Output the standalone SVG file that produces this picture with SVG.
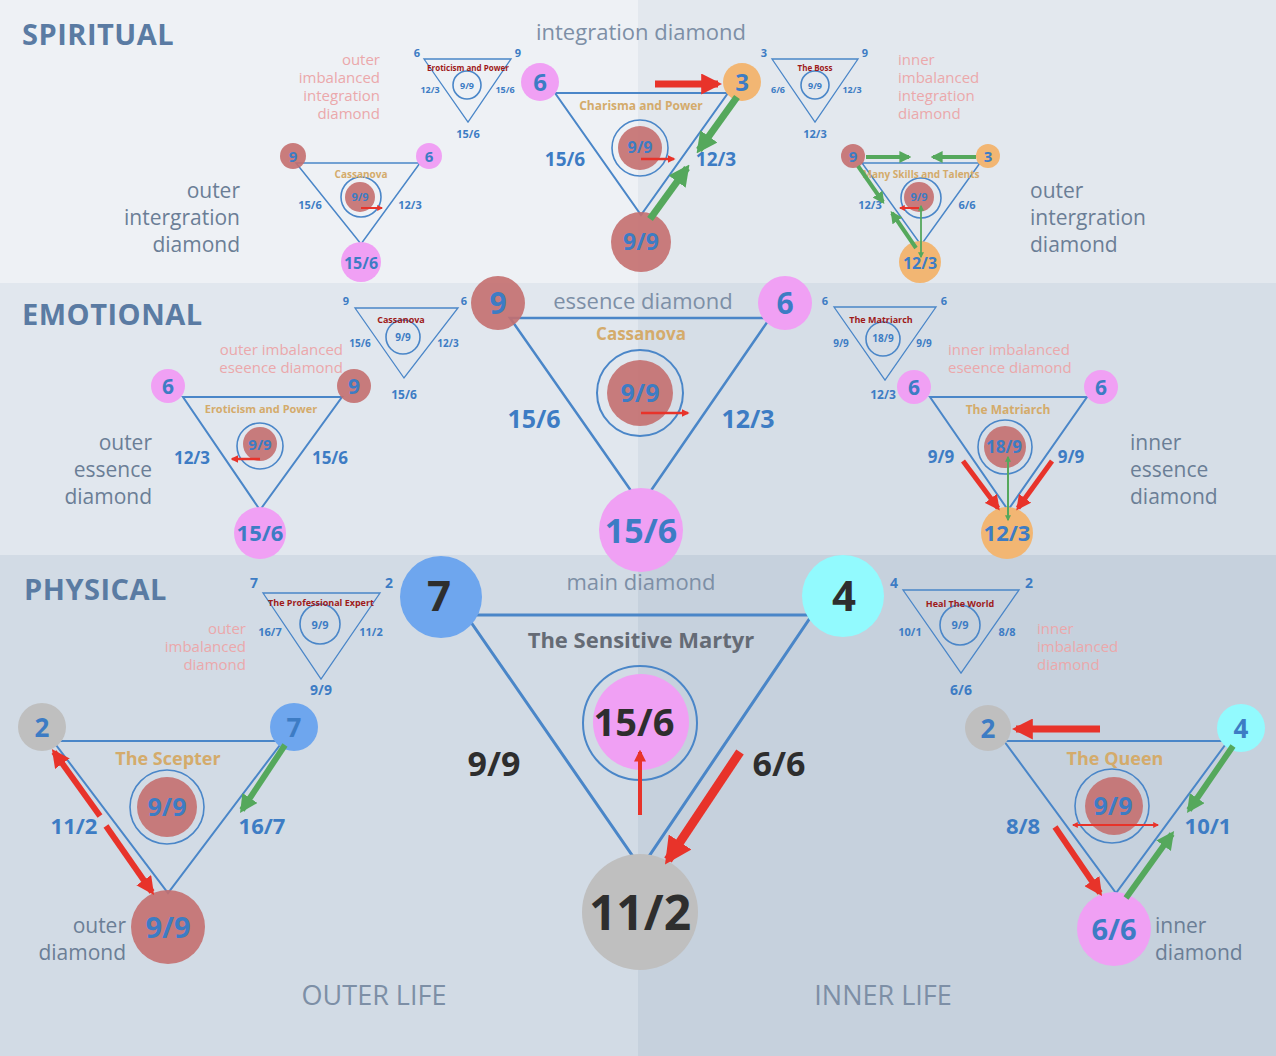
<svg xmlns="http://www.w3.org/2000/svg" width="1276" height="1056" viewBox="0 0 1276 1056">
<style>
text{font-family:"Open Sans","Noto Sans","DejaVu Sans",sans-serif;font-weight:bold;text-anchor:middle;fill:#3d7cc4}
.tri{fill:none;stroke:#4a86c8;stroke-width:2}
.tri3{fill:none;stroke:#4a86c8;stroke-width:3}
.ring{fill:none;stroke:#4a86c8;stroke-width:1.6}
.br{fill:#c46f6f;fill-opacity:.9}
.pk{fill:#f0a0f4}
.or{fill:#f2b673}
.gy{fill:#bfbfbf}
.bl{fill:#6ea6ee}
.cy{fill:#92fafe}
.sec{font-size:29px;fill:#5a7ba3;text-anchor:start;letter-spacing:0.5px}
.cap{font-weight:normal;font-size:22px;fill:#7d8fa6}
.pale{font-weight:normal;font-size:15px;fill:#eba8ab}
.side{font-weight:normal;font-size:21px;fill:#6b7e96}
.ttl{fill:#d4ab6b}
.dk{fill:#9e1a1a;font-size:9px}
.blk{fill:#2e2e2e}
.r{stroke:#e8332a;fill:none}
.g{stroke:#55a85c;fill:none}
</style>
<defs>
<marker id="ra" viewBox="0 0 10 10" refX="8" refY="5" markerWidth="3" markerHeight="3" orient="auto" markerUnits="strokeWidth"><path d="M0,0L10,5L0,10z" fill="#e8332a"/></marker>
<marker id="ga" viewBox="0 0 10 10" refX="8" refY="5" markerWidth="3" markerHeight="3" orient="auto" markerUnits="strokeWidth"><path d="M0,0L10,5L0,10z" fill="#55a85c"/></marker>
<marker id="ras" viewBox="0 0 10 10" refX="8" refY="5" markerWidth="6" markerHeight="6" orient="auto-start-reverse" markerUnits="userSpaceOnUse"><path d="M0,0L10,5L0,10z" fill="#e8332a"/></marker>
<marker id="gas" viewBox="0 0 10 10" refX="8" refY="5" markerWidth="6" markerHeight="6" orient="auto-start-reverse" markerUnits="userSpaceOnUse"><path d="M0,0L10,5L0,10z" fill="#55a85c"/></marker>
</defs>
<g id="background">
<rect x="0" y="0" width="638" height="283" fill="#eef1f5"/>
<rect x="638" y="0" width="638" height="283" fill="#e3e8ee"/>
<rect x="0" y="283" width="638" height="272" fill="#e1e7ee"/>
<rect x="638" y="283" width="638" height="272" fill="#d6dee7"/>
<rect x="0" y="555" width="638" height="501" fill="#d2dbe5"/>
<rect x="638" y="555" width="638" height="501" fill="#c6d1dd"/>
</g>
<g id="labels">
<text x="22" y="45" class="sec">SPIRITUAL</text>
<text x="22" y="325" class="sec">EMOTIONAL</text>
<text x="24" y="600" class="sec">PHYSICAL</text>
<text x="641" y="40" class="cap">integration diamond</text>
<text x="643" y="309" class="cap">essence diamond</text>
<text x="641" y="590" class="cap">main diamond</text>
<text x="374" y="1005" class="cap" style="font-size:27px">OUTER LIFE</text>
<text x="883" y="1005" class="cap" style="font-size:27px">INNER LIFE</text>
<text class="pale" style="text-anchor:end"><tspan x="380" y="65">outer</tspan><tspan x="380" y="83">imbalanced</tspan><tspan x="380" y="101">integration</tspan><tspan x="380" y="119">diamond</tspan></text>
<text class="pale" style="text-anchor:start"><tspan x="898" y="65">inner</tspan><tspan x="898" y="83">imbalanced</tspan><tspan x="898" y="101">integration</tspan><tspan x="898" y="119">diamond</tspan></text>
<text class="side" style="text-anchor:end"><tspan x="240" y="198">outer</tspan><tspan x="240" y="225">intergration</tspan><tspan x="240" y="252">diamond</tspan></text>
<text class="side" style="text-anchor:start"><tspan x="1030" y="198">outer</tspan><tspan x="1030" y="225">intergration</tspan><tspan x="1030" y="252">diamond</tspan></text>
<text class="pale" style="text-anchor:end"><tspan x="343" y="355">outer imbalanced</tspan><tspan x="343" y="373">eseence diamond</tspan></text>
<text class="pale" style="text-anchor:start"><tspan x="948" y="355">inner imbalanced</tspan><tspan x="948" y="373">eseence diamond</tspan></text>
<text class="side" style="text-anchor:end"><tspan x="152" y="450">outer</tspan><tspan x="152" y="477">essence</tspan><tspan x="152" y="504">diamond</tspan></text>
<text class="side" style="text-anchor:start"><tspan x="1130" y="450">inner</tspan><tspan x="1130" y="477">essence</tspan><tspan x="1130" y="504">diamond</tspan></text>
<text class="pale" style="text-anchor:end"><tspan x="246" y="634">outer</tspan><tspan x="246" y="652">imbalanced</tspan><tspan x="246" y="670">diamond</tspan></text>
<text class="pale" style="text-anchor:start"><tspan x="1037" y="634">inner</tspan><tspan x="1037" y="652">imbalanced</tspan><tspan x="1037" y="670">diamond</tspan></text>
<text class="side" style="text-anchor:end"><tspan x="126" y="933">outer</tspan><tspan x="126" y="960">diamond</tspan></text>
<text class="side" style="text-anchor:start"><tspan x="1155" y="933">inner</tspan><tspan x="1155" y="960">diamond</tspan></text>
</g>

<g id="eroticism-small">
<polygon class="tri" style="stroke-width:1.3" points="424,59 511,59 468,122"/>
<circle class="ring" cx="467" cy="85" r="14"/>
<text x="468" y="71" class="dk" style="font-size:8px">Eroticism and Power</text>
<text x="467" y="89" style="font-size:9px">9/9</text>
<text x="417" y="57" style="font-size:11px">6</text><text x="518" y="57" style="font-size:11px">9</text>
<text x="430" y="93" style="font-size:9px">12/3</text><text x="505" y="93" style="font-size:9px">15/6</text>
<text x="468" y="138" style="font-size:11px">15/6</text>
</g>
<g id="boss-small">
<polygon class="tri" style="stroke-width:1.3" points="772,59 858,59 815,122"/>
<circle class="ring" cx="815" cy="85" r="14"/>
<text x="815" y="71" class="dk" style="font-size:8px">The Boss</text>
<text x="815" y="89" style="font-size:9px">9/9</text>
<text x="764" y="57" style="font-size:11px">3</text><text x="865" y="57" style="font-size:11px">9</text>
<text x="778" y="93" style="font-size:9px">6/6</text><text x="852" y="93" style="font-size:9px">12/3</text>
<text x="815" y="138" style="font-size:11px">12/3</text>
</g>
<g id="charisma">
<polygon class="tri" points="555,93 728,93 641,215"/>
<circle class="ring" cx="640" cy="148" r="28"/>
<circle class="br" cx="640" cy="148" r="22"/>
<text x="640" y="153" style="font-size:16px">9/9</text>
<text x="641" y="110" class="ttl" style="font-size:12px">Charisma and Power</text>
<text x="565" y="166" style="font-size:19px">15/6</text>
<text x="716" y="166" style="font-size:19px">12/3</text>
<circle class="pk" cx="540" cy="82" r="19"/><text x="540" y="91" style="font-size:24px">6</text>
<circle class="or" cx="742" cy="82" r="19"/><text x="742" y="91" style="font-size:24px">3</text>
<circle class="br" cx="641" cy="242" r="30"/><text x="641" y="250" style="font-size:23px">9/9</text>
</g>
<g id="cassanova-outer">
<polygon class="tri" style="stroke-width:1.5" points="296,163 420,163 361,244"/>
<circle class="ring" cx="361" cy="197" r="20"/>
<circle class="br" cx="360" cy="197" r="15"/>
<text x="360" y="201" style="font-size:11px">9/9</text>
<text x="361" y="178" class="ttl" style="font-size:10px">Cassanova</text>
<text x="310" y="209" style="font-size:11px">15/6</text><text x="410" y="209" style="font-size:11px">12/3</text>
<circle class="br" cx="293" cy="156" r="13"/><text x="293" y="162" style="font-size:15px">9</text>
<circle class="pk" cx="429" cy="156" r="13"/><text x="429" y="162" style="font-size:15px">6</text>
<circle class="pk" cx="361" cy="262" r="20"/><text x="361" y="269" style="font-size:16px">15/6</text>
</g>
<g id="many-skills">
<polygon class="tri" style="stroke-width:1.5" points="862,163 980,163 921,245"/>
<circle class="ring" cx="921" cy="198" r="20"/>
<circle class="br" cx="919" cy="197" r="15"/>
<text x="919" y="201" style="font-size:11px">9/9</text>
<text x="921" y="178" class="ttl" style="font-size:10px">Many Skills and Talents</text>
<text x="870" y="209" style="font-size:11px">12/3</text><text x="967" y="209" style="font-size:11px">6/6</text>
<circle class="br" cx="853" cy="156" r="12"/><text x="853" y="162" style="font-size:15px">9</text>
<circle class="or" cx="988" cy="156" r="12"/><text x="988" y="162" style="font-size:15px">3</text>
<circle class="or" cx="920" cy="262" r="21"/><text x="920" y="269" style="font-size:16px">12/3</text>
</g>

<g id="cassanova-small">
<polygon class="tri" style="stroke-width:1.3" points="355,308 458,308 404,378"/>
<circle class="ring" cx="403" cy="337" r="17"/>
<text x="401" y="323" class="dk">Cassanova</text>
<text x="403" y="341" style="font-size:10px">9/9</text>
<text x="346" y="305" style="font-size:11px">9</text><text x="464" y="305" style="font-size:11px">6</text>
<text x="360" y="347" style="font-size:10px">15/6</text><text x="448" y="347" style="font-size:10px">12/3</text>
<text x="404" y="399" style="font-size:12px">15/6</text>
</g>
<g id="cassanova-main">
<polygon class="tri" style="stroke-width:2.5" points="510,318 770,318 641,505"/>
<circle class="ring" cx="640" cy="393" r="43" style="stroke-width:2"/>
<circle class="br" cx="640" cy="393" r="33"/>
<text x="640" y="402" style="font-size:25px">9/9</text>
<text x="641" y="340" class="ttl" style="font-size:17px">Cassanova</text>
<text x="534" y="428" style="font-size:25px">15/6</text>
<text x="748" y="428" style="font-size:25px">12/3</text>
<circle class="br" cx="498" cy="303" r="27"/><text x="498" y="314" style="font-size:30px">9</text>
<circle class="pk" cx="785" cy="303" r="27"/><text x="785" y="314" style="font-size:30px">6</text>
<circle class="pk" cx="641" cy="530" r="42"/><text x="641" y="543" style="font-size:34px">15/6</text>
</g>
<g id="eroticism">
<polygon class="tri" points="183,397 342,397 260,510"/>
<circle class="ring" cx="260" cy="446" r="23"/>
<circle class="br" cx="260" cy="444" r="17"/>
<text x="260" y="450" style="font-size:15px">9/9</text>
<text x="261" y="413" class="ttl" style="font-size:11px">Eroticism and Power</text>
<text x="192" y="464" style="font-size:17px">12/3</text><text x="330" y="464" style="font-size:17px">15/6</text>
<circle class="pk" cx="168" cy="386" r="17"/><text x="168" y="394" style="font-size:21px">6</text>
<circle class="br" cx="354" cy="386" r="17"/><text x="354" y="394" style="font-size:21px">9</text>
<circle class="pk" cx="260" cy="533" r="26"/><text x="260" y="541" style="font-size:22px">15/6</text>
</g>
<g id="matriarch-small">
<polygon class="tri" style="stroke-width:1.3" points="834,307 936,307 885,380"/>
<circle class="ring" cx="883" cy="339" r="17"/>
<text x="881" y="323" class="dk">The Matriarch</text>
<text x="883" y="342" style="font-size:10px">18/9</text>
<text x="825" y="305" style="font-size:11px">6</text><text x="944" y="305" style="font-size:11px">6</text>
<text x="841" y="347" style="font-size:10px">9/9</text><text x="924" y="347" style="font-size:10px">9/9</text>
<text x="883" y="399" style="font-size:12px">12/3</text>
</g>
<g id="matriarch">
<polygon class="tri" points="930,397 1087,397 1008,510"/>
<circle class="ring" cx="1005" cy="447" r="27"/>
<circle class="br" cx="1005" cy="447" r="21"/>
<text x="1004" y="453" style="font-size:17px">18/9</text>
<text x="1008" y="414" class="ttl" style="font-size:12px">The Matriarch</text>
<text x="941" y="463" style="font-size:17px">9/9</text><text x="1071" y="463" style="font-size:17px">9/9</text>
<circle class="pk" cx="914" cy="387" r="17"/><text x="914" y="395" style="font-size:21px">6</text>
<circle class="pk" cx="1101" cy="387" r="17"/><text x="1101" y="395" style="font-size:21px">6</text>
<circle class="or" cx="1007" cy="533" r="26"/><text x="1007" y="541" style="font-size:22px">12/3</text>
</g>

<g id="professional-small">
<polygon class="tri" style="stroke-width:1.3" points="263,593 380,593 321,679"/>
<circle class="ring" cx="320" cy="624" r="20"/>
<text x="321" y="606" class="dk">The Professional Expert</text>
<text x="320" y="629" style="font-size:11px">9/9</text>
<text x="254" y="588" style="font-size:14px">7</text><text x="389" y="588" style="font-size:14px">2</text>
<text x="270" y="636" style="font-size:11px">16/7</text><text x="371" y="636" style="font-size:11px">11/2</text>
<text x="321" y="695" style="font-size:14px">9/9</text>
</g>
<g id="heal-small">
<polygon class="tri" style="stroke-width:1.3" points="903,590 1019,590 961,673"/>
<circle class="ring" cx="960" cy="625" r="20"/>
<text x="960" y="607" class="dk">Heal The World</text>
<text x="960" y="629" style="font-size:11px">9/9</text>
<text x="894" y="588" style="font-size:14px">4</text><text x="1029" y="588" style="font-size:14px">2</text>
<text x="910" y="636" style="font-size:11px">10/1</text><text x="1007" y="636" style="font-size:11px">8/8</text>
<text x="961" y="695" style="font-size:14px">6/6</text>
</g>
<g id="martyr">
<polygon class="tri3" points="466,615 812,615 641,868"/>
<circle class="ring" cx="640" cy="723" r="57" style="stroke-width:2"/>
<circle class="pk" cx="641" cy="722" r="48"/>
<text x="634" y="736" class="blk" style="font-size:38px">15/6</text>
<text x="641" y="648" style="font-size:22px;fill:#656b75">The Sensitive Martyr</text>
<text x="494" y="776" class="blk" style="font-size:34px">9/9</text>
<text x="779" y="776" class="blk" style="font-size:34px">6/6</text>
<circle class="bl" cx="441" cy="597" r="41"/><text x="439" y="611" class="blk" style="font-size:42px">7</text>
<circle class="cy" cx="843" cy="596" r="41"/><text x="844" y="611" class="blk" style="font-size:42px">4</text>
<circle class="gy" cx="640" cy="912" r="58"/><text x="640" y="930" class="blk" style="font-size:48px">11/2</text>
</g>
<g id="scepter">
<polygon class="tri" points="53,741 283,741 168,893"/>
<circle class="ring" cx="167" cy="807" r="37"/>
<circle class="br" cx="167" cy="807" r="30"/>
<text x="167" y="816" style="font-size:25px">9/9</text>
<text x="168" y="765" class="ttl" style="font-size:18px">The Scepter</text>
<text x="74" y="834" style="font-size:22px">11/2</text><text x="262" y="834" style="font-size:22px">16/7</text>
<circle class="gy" cx="42" cy="727" r="24"/><text x="42" y="737" style="font-size:26px">2</text>
<circle class="bl" cx="294" cy="727" r="24"/><text x="294" y="737" style="font-size:26px">7</text>
<circle class="br" cx="168" cy="927" r="37"/><text x="168" y="938" style="font-size:29px">9/9</text>
</g>
<g id="queen">
<polygon class="tri" points="1004,741 1228,741 1116,893"/>
<circle class="ring" cx="1112" cy="806" r="37"/>
<circle class="br" cx="1114" cy="806" r="29"/>
<text x="1113" y="815" style="font-size:25px">9/9</text>
<text x="1115" y="765" class="ttl" style="font-size:18px">The Queen</text>
<text x="1023" y="834" style="font-size:22px">8/8</text><text x="1208" y="834" style="font-size:22px">10/1</text>
<circle class="gy" cx="988" cy="728" r="23"/><text x="988" y="738" style="font-size:26px">2</text>
<circle class="cy" cx="1241" cy="728" r="24"/><text x="1241" y="738" style="font-size:26px">4</text>
<circle class="pk" cx="1114" cy="929" r="37"/><text x="1114" y="940" style="font-size:29px">6/6</text>
</g>

<g id="connectors">
<line class="r" x1="655" y1="84" x2="718" y2="84" stroke-width="7" marker-end="url(#ra)"/>
<line class="g" x1="737" y1="97" x2="699" y2="150" stroke-width="7" marker-end="url(#ga)"/>
<line class="g" x1="650" y1="219" x2="687" y2="168" stroke-width="7" marker-end="url(#ga)"/>
<line class="r" x1="641" y1="159" x2="674" y2="159" stroke-width="2.5" marker-end="url(#ra)"/>
<line class="r" x1="361" y1="208" x2="382" y2="208" stroke-width="2" marker-end="url(#ra)"/>
<line class="g" x1="866" y1="157" x2="909" y2="157" stroke-width="4" marker-end="url(#ga)"/>
<line class="g" x1="976" y1="157" x2="933" y2="157" stroke-width="4" marker-end="url(#ga)"/>
<line class="g" x1="858" y1="166" x2="883" y2="202" stroke-width="4" marker-end="url(#ga)"/>
<line class="g" x1="916" y1="248" x2="892" y2="213" stroke-width="4" marker-end="url(#ga)"/>
<line class="g" x1="921" y1="206" x2="921" y2="257" stroke-width="1.8" marker-start="url(#gas)" marker-end="url(#gas)"/>
<line class="r" x1="919" y1="208" x2="900" y2="208" stroke-width="2" marker-end="url(#ra)"/>
<line class="r" x1="641" y1="413" x2="688" y2="413" stroke-width="2.5" marker-end="url(#ra)"/>
<line class="r" x1="260" y1="459" x2="232" y2="459" stroke-width="2.5" marker-end="url(#ra)"/>
<line class="r" x1="963" y1="461" x2="998" y2="508" stroke-width="5" marker-end="url(#ra)"/>
<line class="r" x1="1052" y1="461" x2="1018" y2="508" stroke-width="5" marker-end="url(#ra)"/>
<line class="g" x1="1008" y1="457" x2="1008" y2="520" stroke-width="2" marker-start="url(#gas)" marker-end="url(#gas)"/>
<line class="r" x1="640" y1="815" x2="640" y2="752" stroke-width="4" marker-end="url(#ra)"/>
<line class="r" x1="740" y1="752" x2="668" y2="860" stroke-width="9" marker-end="url(#ra)"/>
<line class="r" x1="100" y1="816" x2="54" y2="752" stroke-width="6" marker-end="url(#ra)"/>
<line class="r" x1="106" y1="826" x2="152" y2="892" stroke-width="6" marker-end="url(#ra)"/>
<line class="g" x1="285" y1="745" x2="242" y2="810" stroke-width="6" marker-end="url(#ga)"/>
<line class="r" x1="1100" y1="729" x2="1016" y2="729" stroke-width="7" marker-end="url(#ra)"/>
<line class="r" x1="1073" y1="825" x2="1158" y2="825" stroke-width="2" marker-start="url(#ras)" marker-end="url(#ras)"/>
<line class="r" x1="1055" y1="827" x2="1100" y2="893" stroke-width="6" marker-end="url(#ra)"/>
<line class="g" x1="1233" y1="746" x2="1189" y2="810" stroke-width="6" marker-end="url(#ga)"/>
<line class="g" x1="1126" y1="898" x2="1172" y2="834" stroke-width="6" marker-end="url(#ga)"/>
</g>
</svg>
